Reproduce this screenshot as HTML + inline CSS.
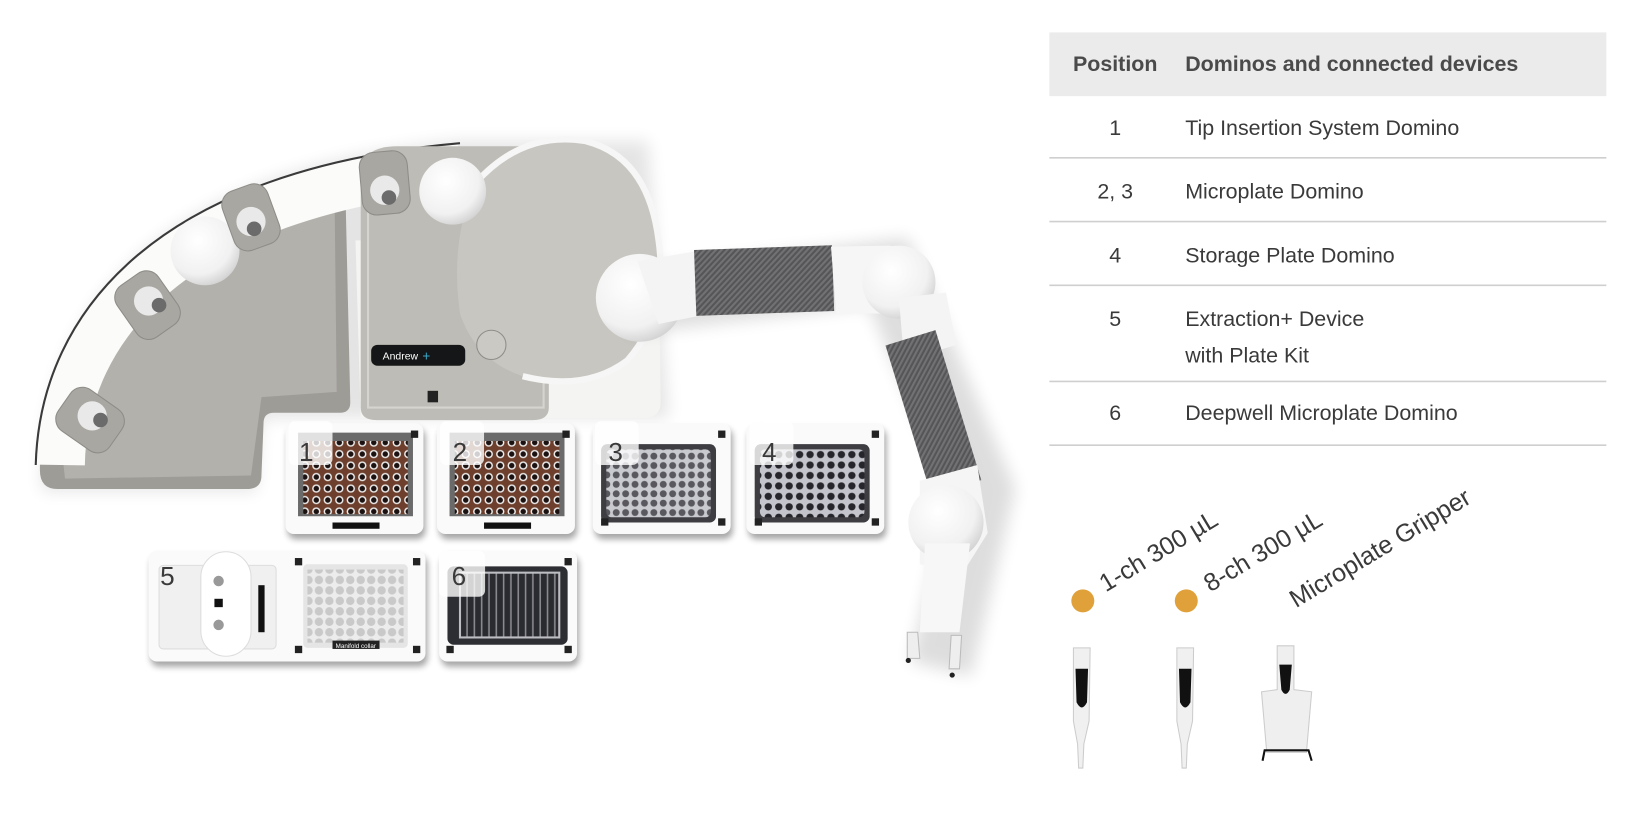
<!DOCTYPE html>
<html><head><meta charset="utf-8"><style>
html,body{margin:0;padding:0;background:#fff;width:1640px;height:836px;overflow:hidden}
svg{display:block}
text{font-family:"Liberation Sans",sans-serif;fill:#3a3a3a}
</style></head><body>
<svg width="1640" height="836" viewBox="0 0 1569 800" xmlns="http://www.w3.org/2000/svg">
<defs>
<pattern id="brown" x="0" y="0" width="11" height="11" patternUnits="userSpaceOnUse"><rect width="11" height="11" fill="#6e3f2c"/><circle cx="5.5" cy="5.5" r="4" fill="#eee"/><circle cx="5.5" cy="5.5" r="2.6" fill="#1a1110"/></pattern>
<pattern id="grey3" width="9" height="9" patternUnits="userSpaceOnUse"><rect width="9" height="9" fill="#c9c9d0"/><circle cx="4.5" cy="4.5" r="3.3" fill="#58585e"/></pattern>
<pattern id="grey4" width="10" height="10" patternUnits="userSpaceOnUse"><rect width="10" height="10" fill="#c4c4cc"/><circle cx="5" cy="5" r="3.5" fill="#25252b"/></pattern>
<pattern id="grey5" width="10" height="10" patternUnits="userSpaceOnUse"><rect width="10" height="10" fill="#ececec"/><circle cx="5" cy="5" r="4" fill="#c9c9c9"/></pattern>
<pattern id="stripes" width="7" height="10" patternUnits="userSpaceOnUse"><rect width="7" height="10" fill="#2a2b30"/><rect x="5" width="1.5" height="10" fill="#8a8b90"/></pattern>
<pattern id="carbon" width="4" height="4" patternUnits="userSpaceOnUse" patternTransform="rotate(45)"><rect width="4" height="4" fill="#555557"/><rect width="2" height="4" fill="#727274"/></pattern>
<filter id="sh" x="-20%" y="-20%" width="140%" height="140%"><feGaussianBlur stdDeviation="8"/></filter>
<filter id="sh2" x="-20%" y="-20%" width="140%" height="150%"><feGaussianBlur stdDeviation="3"/></filter>
<radialGradient id="ball" cx="40%" cy="35%" r="70%"><stop offset="0" stop-color="#ffffff"/><stop offset="0.7" stop-color="#f1f1f1"/><stop offset="1" stop-color="#cfcfcf"/></radialGradient>
</defs>

<!-- base shadow -->
<path d="M40,455 C40,300 150,160 440,135 L620,135 L640,400 L250,400 L245,470 L40,470 Z" fill="#000" opacity="0.10" filter="url(#sh)"/>
<!-- right white platform -->
<path d="M340,230 L630,230 L632,385 Q632,400 615,400 L345,400 Z" fill="#f4f4f2"/>
<!-- gray floor -->
<path d="M38,440 C45,310 160,195 330,168 L335,385 Q335,395 325,395 L262,395 Q252,395 252,405 L250,455 Q250,468 236,468 L55,468 Q38,468 38,450 Z" fill="#9e9c97"/>
<path d="M60,440 C70,320 175,215 320,190 L322,375 L250,380 L240,455 L62,458 Z" fill="#b3b1ac"/>
<!-- white rim arc -->
<path d="M58,445 C60,310 170,185 440,160" fill="none" stroke="#fbfbfa" stroke-width="46"/>
<path d="M34,445 C38,295 155,162 440,137" fill="none" stroke="#3a3a3a" stroke-width="2"/>
<!-- middle panel -->
<path d="M345,160 Q350,140 380,140 L510,140 Q525,140 525,160 L525,390 Q525,402 510,402 L360,402 Q345,402 345,390 Z" fill="#bebcb6"/>
<path d="M352,170 L352,390 L520,390 L520,170" fill="none" stroke="#d6d4cf" stroke-width="2"/>
<rect x="355" y="330" width="90" height="20" rx="6" fill="#151617"/>
<text x="366" y="344" font-size="10" style="fill:#fff">Andrew</text><text x="404" y="345" font-size="13" style="fill:#39a8c9">+</text>
<rect x="409" y="374" width="10" height="11" fill="#222"/>
<!-- head dome -->
<path d="M455,175 Q500,125 560,135 Q620,150 630,230 Q640,300 600,345 Q560,375 500,360 Q455,345 440,300 Q430,230 455,175 Z" fill="#c8c6c1"/>
<path d="M455,175 Q500,125 560,135 Q620,150 630,230 Q640,300 600,345 Q560,375 500,360" fill="none" stroke="#f6f6f6" stroke-width="6"/>
<circle cx="470" cy="330" r="14" fill="#cbc9c4" stroke="#8f8d88" stroke-width="1"/>
<!-- rim joints -->
<circle cx="196" cy="240" r="33" fill="url(#ball)"/>
<circle cx="433" cy="183" r="32" fill="url(#ball)"/>
<!-- pods -->
<g fill="#a9a7a2" stroke="#8e8c87"><rect x="117" y="262" width="48" height="60" rx="14" transform="rotate(-35 141 292)"/><rect x="217" y="178" width="46" height="60" rx="14" transform="rotate(-20 240 208)"/><rect x="345" y="145" width="46" height="60" rx="14" transform="rotate(-5 368 175)"/><rect x="62" y="372" width="48" height="60" rx="14" transform="rotate(-55 86 402)"/></g>
<g fill="#e9e9e9"><circle cx="142" cy="288" r="14"/><circle cx="240" cy="212" r="14"/><circle cx="368" cy="182" r="14"/><circle cx="88" cy="398" r="14"/></g>
<g fill="#6b6b6b"><circle cx="152" cy="292" r="7"/><circle cx="243" cy="219" r="7"/><circle cx="372" cy="189" r="7"/><circle cx="96" cy="402" r="7"/></g>

<!-- arm -->
<g filter="url(#sh)" opacity="0.13"><path d="M600,290 L850,260 L940,470 L900,640" fill="none" stroke="#000" stroke-width="60"/></g>
<circle cx="612" cy="285" r="42" fill="url(#ball)"/>
<path d="M610,250 L680,238 L680,300 L630,310 Z" fill="#f4f4f4"/>
<rect x="665" y="237" width="132" height="63" fill="url(#carbon)" transform="rotate(-2 730 268)"/>
<path d="M795,236 L850,235 Q890,240 890,275 L880,300 L800,300 Z" fill="#f6f6f6"/>
<circle cx="860" cy="270" r="35" fill="url(#ball)"/>
<path d="M860,285 L905,280 L915,330 L865,345 Z" fill="#f4f4f4"/>
<rect x="868" y="320" width="50" height="150" fill="url(#carbon)" transform="rotate(-17 893 395)"/>
<path d="M880,460 L935,445 L945,510 L920,550 L880,540 Z" fill="#f5f5f5"/>
<circle cx="905" cy="500" r="36" fill="url(#ball)"/>
<path d="M885,520 L928,520 L918,605 L880,605 Z" fill="#f7f7f7"/>
<path d="M868,605 L878,605 L880,630 L868,630 Z M910,608 L920,608 L918,640 L908,640 Z" fill="#eee" stroke="#bbb"/>
<circle cx="869" cy="632" r="2.5" fill="#222"/><circle cx="911" cy="646" r="2.5" fill="#222"/>

<!-- tiles -->
<g>
<g filter="url(#sh2)" opacity="0.35" fill="#000"><rect x="275" y="410" width="132" height="106" rx="8"/><rect x="420" y="410" width="132" height="106" rx="8"/><rect x="569" y="410" width="132" height="106" rx="8"/><rect x="716" y="410" width="132" height="106" rx="8"/><rect x="144" y="532" width="265" height="106" rx="8"/><rect x="422" y="532" width="132" height="106" rx="8"/></g>
<g fill="#fafafa"><rect x="273" y="405" width="132" height="106" rx="8"/><rect x="418" y="405" width="132" height="106" rx="8"/><rect x="567" y="405" width="132" height="106" rx="8"/><rect x="714" y="405" width="132" height="106" rx="8"/><rect x="142" y="527" width="265" height="106" rx="8"/><rect x="420" y="527" width="132" height="106" rx="8"/></g>
<rect x="285" y="414" width="110" height="80" fill="#6a6a6a"/><rect x="290" y="422" width="100" height="70" fill="url(#brown)"/>
<rect x="430" y="414" width="110" height="80" fill="#6a6a6a"/><rect x="435" y="422" width="100" height="70" fill="url(#brown)"/>
<rect x="318" y="500" width="45" height="6" fill="#111"/><rect x="463" y="500" width="45" height="6" fill="#111"/>
<rect x="575" y="425" width="110" height="75" rx="6" fill="#3d3d42"/><rect x="580" y="430" width="100" height="65" rx="5" fill="url(#grey3)"/>
<rect x="722" y="425" width="110" height="75" rx="6" fill="#3d3d42"/><rect x="727" y="430" width="100" height="65" rx="5" fill="url(#grey4)"/>
<rect x="152" y="541" width="112" height="80" rx="4" fill="#f0f0f0" stroke="#ddd"/>
<rect x="192" y="528" width="48" height="100" rx="24" fill="#fff" stroke="#ddd"/>
<circle cx="209" cy="556" r="5" fill="#999"/><circle cx="209" cy="598" r="5" fill="#999"/><rect x="205" y="573" width="8" height="8" fill="#111"/>
<rect x="247" y="560" width="6" height="45" fill="#111"/>
<rect x="290" y="540" width="100" height="80" rx="4" fill="#e5e5e5"/><rect x="294" y="545" width="92" height="70" fill="url(#grey5)"/>
<rect x="318" y="613" width="45" height="8" fill="#222"/><text x="321" y="620" font-size="6" style="fill:#fff">Manifold collar</text>
<rect x="428" y="542" width="115" height="75" rx="6" fill="#2d2e33"/><rect x="440" y="548" width="95" height="62" fill="url(#stripes)" stroke="#bdbdc4" stroke-width="2"/>
<g fill="#222"><rect x="393" y="412" width="7" height="7"/><rect x="538" y="412" width="7" height="7"/><rect x="687" y="412" width="7" height="7"/><rect x="834" y="412" width="7" height="7"/><rect x="575" y="496" width="7" height="7"/><rect x="687" y="496" width="7" height="7"/><rect x="722" y="496" width="7" height="7"/><rect x="834" y="496" width="7" height="7"/><rect x="282" y="534" width="7" height="7"/><rect x="395" y="534" width="7" height="7"/><rect x="282" y="618" width="7" height="7"/><rect x="395" y="618" width="7" height="7"/><rect x="540" y="534" width="7" height="7"/><rect x="427" y="618" width="7" height="7"/><rect x="540" y="618" width="7" height="7"/></g>
<g fill="#fff" opacity="0.8"><rect x="276" y="403" width="42" height="42" rx="6"/><rect x="421" y="403" width="42" height="42" rx="6"/><rect x="569" y="403" width="42" height="42" rx="6"/><rect x="717" y="403" width="42" height="42" rx="6"/><rect x="420" y="527" width="44" height="44" rx="6"/></g>
<g font-size="25"><text x="286" y="441">1</text><text x="433" y="441">2</text><text x="582" y="441">3</text><text x="729" y="441">4</text><text x="153" y="560">5</text><text x="432" y="560">6</text></g>
</g>

<!-- table -->
<rect x="1004" y="31" width="533" height="61" fill="#ebebeb"/>
<g stroke="#cfcfcf" stroke-width="1.5"><line x1="1004" y1="151" x2="1537" y2="151"/><line x1="1004" y1="212" x2="1537" y2="212"/><line x1="1004" y1="273" x2="1537" y2="273"/><line x1="1004" y1="365" x2="1537" y2="365"/><line x1="1004" y1="426" x2="1537" y2="426"/></g>
<g font-size="20.5">
<text x="1067" y="68" text-anchor="middle" font-weight="bold" style="fill:#4a4a4a">Position</text>
<text x="1134" y="68" font-weight="bold" style="fill:#4a4a4a">Dominos and connected devices</text>
<text x="1067" y="129" text-anchor="middle">1</text><text x="1134" y="129">Tip Insertion System Domino</text>
<text x="1067" y="190" text-anchor="middle">2, 3</text><text x="1134" y="190">Microplate Domino</text>
<text x="1067" y="251" text-anchor="middle">4</text><text x="1134" y="251">Storage Plate Domino</text>
<text x="1067" y="312" text-anchor="middle">5</text><text x="1134" y="312">Extraction+ Device</text><text x="1134" y="347">with Plate Kit</text>
<text x="1067" y="402" text-anchor="middle">6</text><text x="1134" y="402">Deepwell Microplate Domino</text>
</g>

<circle cx="1036" cy="575" r="11" fill="#e0a03a"/><circle cx="1135" cy="575" r="11" fill="#e0a03a"/>
<g font-size="24"><text transform="translate(1058,567) rotate(-31)">1-ch 300 µL</text><text transform="translate(1158,567) rotate(-31)">8-ch 300 µL</text><text transform="translate(1240,582) rotate(-31)">Microplate Gripper</text></g>

<g>
<path d="M1027,620 L1043,620 L1042,690 L1037,712 L1036,735 L1032,735 L1031,712 L1027,690 Z" fill="#f0f0f0" stroke="#ccc"/>
<path d="M1029,640 L1041,640 L1040,672 Q1035,682 1030,672 Z" fill="#111"/>
<path d="M1126,620 L1142,620 L1141,690 L1136,712 L1135,735 L1131,735 L1130,712 L1126,690 Z" fill="#f0f0f0" stroke="#ccc"/>
<path d="M1128,640 L1140,640 L1139,672 Q1134,682 1129,672 Z" fill="#111"/>
<path d="M1222,618 L1238,618 L1238,660 L1255,662 L1250,720 L1212,720 L1207,662 L1222,660 Z" fill="#efefef" stroke="#ccc"/>
<path d="M1224,636 L1236,636 L1234,660 Q1230,668 1226,660 Z" fill="#111"/>
<path d="M1208,728 L1210,718 L1252,718 L1255,728" fill="none" stroke="#111" stroke-width="2"/>
</g>
</svg>
</body></html>
